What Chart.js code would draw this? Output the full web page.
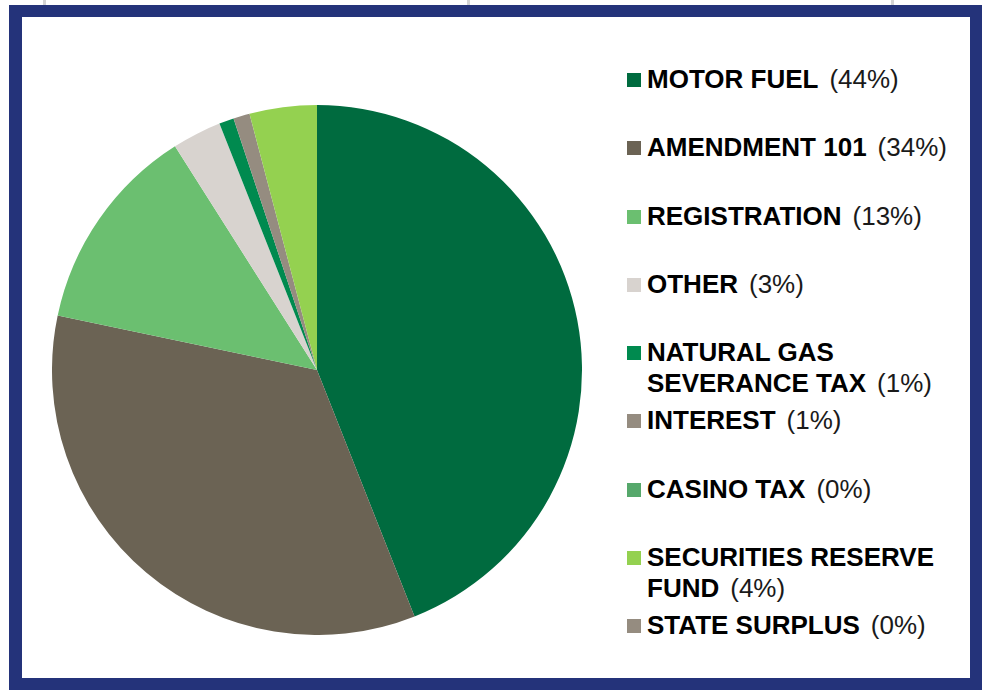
<!DOCTYPE html>
<html>
<head>
<meta charset="utf-8">
<script src="https://cdn.jsdelivr.net/npm/chart.js@4"></script>
<style>
body{margin:0;background:#fff;width:986px;height:691px;overflow:hidden;position:relative;font-family:"Liberation Sans",Arial,sans-serif;}
.tick{position:absolute;top:0;width:3px;height:6px;background:#d4d4d4;}
#frame{position:absolute;left:9px;top:5px;width:948px;height:661px;border:13px solid #24337a;border-width:12px 12px 12px 13px;background:#fff;}
#pieBox{position:absolute;left:52px;top:105px;width:530px;height:530px;}
#legend{position:absolute;left:627px;top:64px;width:340px;}
.item{height:68.25px;position:relative;}
.box{position:absolute;left:0;top:9px;width:14px;height:14px;}
.txt{margin-left:20px;font-size:26px;line-height:31px;color:#000;}
.txt b{font-weight:bold;}
.txt span{margin-left:11px;color:#1a1a1a;}
</style>
</head>
<body>
<div class="tick" style="left:43px"></div>
<div class="tick" style="left:467px"></div>
<div class="tick" style="left:891px"></div>
<div id="frame"></div>
<div id="pieBox"><canvas id="pie"></canvas></div>
<div id="legend"></div>
<script>
// DATA
const categories = ["MOTOR FUEL","AMENDMENT 101","REGISTRATION","OTHER","NATURAL GAS SEVERANCE TAX","INTEREST","CASINO TAX","SECURITIES RESERVE FUND","STATE SURPLUS"];
const shares = [44.0,34.3,12.7,3.0,0.9,1.0,0,4.1,0];
const shareLabels = ["(44%)","(34%)","(13%)","(3%)","(1%)","(1%)","(0%)","(4%)","(0%)"];
const colors = ["#006b3f","#6b6354","#6bbf70","#d8d3cf","#008a4f","#958c80","#56a86b","#94d150","#958c80"];

// PIE
const chart = new Chart(document.getElementById("pie"), {
type: "pie",
data: {
labels: categories,
datasets: [{
data: shares,
backgroundColor: colors,
borderWidth: 0
}]
},
options: {
responsive: true,
maintainAspectRatio: false,
animation: false,
layout: { padding: 0 },
plugins: {
legend: { display: false },
tooltip: { enabled: false }
}
}
});

// LEGEND
const legend = document.getElementById("legend");
chart.data.labels.forEach((name, i) => {
const item = document.createElement("div");
item.className = "item";
item.innerHTML = '<div class="box" style="background:' + colors[i] + '"></div>' +
'<div class="txt"><b>' + name + '</b><span>' + shareLabels[i] + '</span></div>';
legend.appendChild(item);
});
</script>
</body>
</html>
